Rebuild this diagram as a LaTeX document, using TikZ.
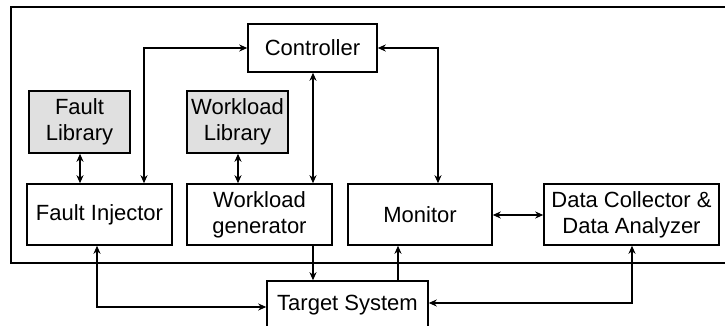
\documentclass[tikz,border=0pt]{standalone}
\usepackage{fontspec}
\setmainfont{Liberation Sans}
\usetikzlibrary{arrows.meta}
\definecolor{libgray}{RGB}{224,224,224}
\begin{document}
\begin{tikzpicture}[x=1pt,y=-1pt,
  box/.style={draw=black,line width=1.5pt,fill=white,inner sep=0pt,align=center,
    font=\fontsize{22}{26.3}\selectfont},
  lib/.style={box,fill=libgray},
  conn/.style={line width=1.5pt,-{Stealth[length=8pt,width=7pt,inset=2.5pt]}},
  dbl/.style={line width=1.5pt,{Stealth[length=8pt,width=7pt,inset=2.5pt]}-{Stealth[length=8pt,width=7pt,inset=2.5pt]}}]
\useasboundingbox (0,0) rectangle (725,326);
\fill[white] (0,0) rectangle (725,326);
\draw[line width=1.5pt] (740,7) -- (11,7) -- (11,263) -- (740,263);

\node[box,minimum width=129pt,minimum height=48pt] (ctrl) at (312.5,48) {Controller};
\node[lib,minimum width=101pt,minimum height=62pt] (fl) at (79.5,122) {Fault\\Library};
\node[lib,minimum width=101pt,minimum height=62pt] (wl) at (237.5,122) {Workload\\Library};
\node[box,minimum width=145pt,minimum height=61pt] (fi) at (99.5,214.5) {Fault Injector};
\node[box,minimum width=145pt,minimum height=61pt] (wg) at (259.5,214.5) {Workload\\generator};
\node[box,minimum width=144pt,minimum height=61pt] (mon) at (420,214.5) {Monitor};
\node[box,minimum width=175pt,minimum height=61pt] (dc) at (631.5,214.5) {Data Collector \&\\Data Analyzer};
\node[box,minimum width=161pt,minimum height=48pt] (ts) at (347.5,305) {Target System};

\coordinate (fiA) at ([xshift=44.5pt]fi.north);
\coordinate (monA) at ([xshift=18pt]mon.north);
\coordinate (monB) at ([xshift=-22pt]mon.south);
\coordinate (fiB) at ([xshift=-2.5pt]fi.south);
\coordinate (ctrlS) at ([xshift=0.5pt]ctrl.south);
\coordinate (flS) at ([xshift=0.5pt]fl.south);
\coordinate (wlS) at ([xshift=0.5pt]wl.south);
\coordinate (dcS) at ([xshift=0.5pt]dc.south);
\coordinate (monE) at ([yshift=-0.5pt]mon.east);

\draw[dbl] (fiA) |- (ctrl.west);
\draw[dbl] (ctrl.east) -| (monA);
\draw[dbl] (ctrlS) -- (ctrlS |- wg.north);
\draw[dbl] (flS) -- (flS |- fi.north);
\draw[dbl] (wlS) -- (wlS |- fi.north);
\draw[conn] (ctrlS |- wg.south) -- (ctrlS |- ts.north);
\draw[conn] (monB |- ts.north) -- (monB);
\draw[dbl] (monE) -- (monE -| dc.west);
\draw[dbl] (fiB) |- ([yshift=-2pt]ts.west);
\draw[dbl] (dcS) |- ([yshift=2pt]ts.east);
\end{tikzpicture}
\end{document}
